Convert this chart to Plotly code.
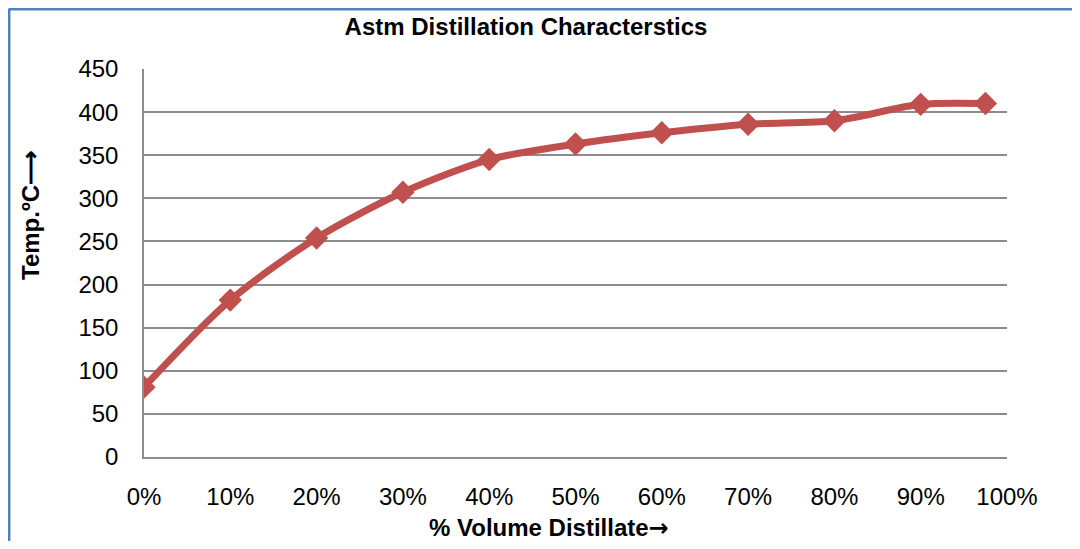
import plotly.graph_objects as go

# Data
volume_pct = [0, 10, 20, 30, 40, 50, 60, 70, 80, 90, 97.5]
temp_c = [81, 182, 254, 307, 345, 363, 376, 386, 390, 409, 410]
x_ticks = [0, 10, 20, 30, 40, 50, 60, 70, 80, 90, 100]
x_tick_labels = [f"{v}%" for v in x_ticks]
y_ticks = [0, 50, 100, 150, 200, 250, 300, 350, 400, 450]

title_text = "Astm Distillation Characterstics"
x_title = "% Volume Distillate"
y_title = "Temp.ºC"

FONT = "Liberation Sans, Arial, sans-serif"
RED = "#C0504D"
GRID = "#8C8C8C"
BLUE = "#4F81BD"

# page offset (browser body margin)
OFF = 8
W, H = 1080 - OFF, 549 - 2 * OFF
# target plot area in page pixels
PL, PR, PT, PB = 144, 1007, 69, 457
L, T = PL - OFF, PT - OFF
R = W - (PR - OFF)
B = H - (PB - OFF)
pw, ph = PR - PL, PB - PT


def px_x(p):  # page pixel -> paper x
    return (p - PL) / pw


def px_y(p):  # page pixel -> paper y
    return (PB - p) / ph


fig = go.Figure()
fig.add_trace(go.Scatter(
    x=volume_pct, y=temp_c,
    mode="lines+markers",
    line=dict(color=RED, width=7, shape="spline", smoothing=0.8),
    marker=dict(symbol="diamond", size=18, color=RED),
    showlegend=False,
))

arrow = "<span style='font-family:DejaVu Sans'>→</span>"

fig.update_layout(
    width=W, height=H,
    margin=dict(l=L, r=R, t=T, b=B, autoexpand=False),
    paper_bgcolor="white", plot_bgcolor="white",
    font=dict(family=FONT, size=24, color="black"),
    title=dict(text=f"<b>{title_text}</b>", x=(526 - OFF) / W, xanchor="center",
               y=1 - (27 - OFF) / H, yanchor="middle", yref="container",
               font=dict(family=FONT, size=24, color="black")),
    xaxis=dict(range=[0, 100], tickvals=x_ticks, ticktext=x_tick_labels,
               showgrid=False, zeroline=False, showline=True,
               linecolor=GRID, linewidth=1.5, ticks="",
               ticklabelstandoff=17, tickfont=dict(size=24)),
    yaxis=dict(range=[0, 450], tickvals=y_ticks, showgrid=True,
               gridcolor=GRID, gridwidth=1.5, zeroline=False,
               showline=True, linecolor=GRID, linewidth=1.5, ticks="",
               ticklabelstandoff=19, tickfont=dict(size=24)),
    annotations=[
        dict(text=f"<b>{x_title}{arrow}</b>", x=px_x(549), y=px_y(528),
             xref="paper", yref="paper", showarrow=False,
             xanchor="center", yanchor="middle", font=dict(size=24)),
        dict(text=f"<b>{y_title}⟶</b>", x=px_x(30), y=px_y(216),
             xref="paper", yref="paper", showarrow=False, textangle=-90,
             xanchor="center", yanchor="middle", font=dict(size=24)),
    ],
    shapes=[
        dict(type="line", xref="paper", yref="paper",
             x0=px_x(8.7), x1=px_x(1100), y0=px_y(8.7), y1=px_y(8.7),
             line=dict(color=BLUE, width=3.5)),
        dict(type="line", xref="paper", yref="paper",
             x0=px_x(8.7), x1=px_x(8.7), y0=px_y(8.7), y1=px_y(600),
             line=dict(color=BLUE, width=3.5)),
    ],
)

fig.write_html("out.html")
